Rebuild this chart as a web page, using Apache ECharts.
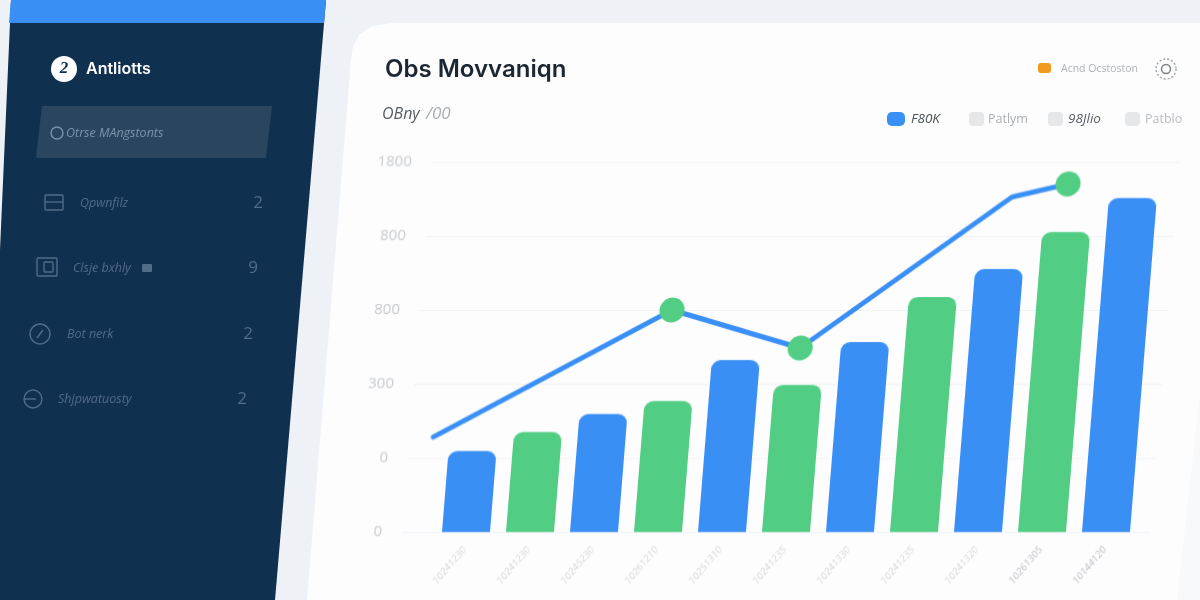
<!DOCTYPE html>
<html>
<head>
<meta charset="utf-8">
<style>
  html, body { margin: 0; padding: 0; width: 1200px; height: 600px; overflow: hidden; background: #eef1f6; }
  #bg, #main { position: absolute; left: 0; top: 0; width: 1200px; height: 600px; }
  /* the whole plot leans to the right, sheared around the bar baseline */
  #main { transform: skewX(-4.6deg); transform-origin: 0 532px; }
</style>
<script src="https://cdn.jsdelivr.net/npm/echarts@6/dist/echarts.min.js"></script>
</head>
<body>
<div id="bg"></div>
<div id="main"></div>
<script>
const categories = ['10241230', '10241230', '10245230', '10261210', '10251310', '10241235', '10241330', '10241235', '10241320', '10261305', '10144120']
const barValues = [328, 405, 478, 531, 697, 596, 770, 953, 1066, 1216, 1354]
const barColorNames = ['blue', 'green', 'blue', 'green', 'blue', 'green', 'blue', 'green', 'blue', 'green', 'blue']
const lineX = [0.37, 3.94, 5.99, 9.11, 9.97]
const lineValues = [385, 900, 746, 1358, 1411]
const lineDots = [1, 2, 4]
const yTickLabels = ['0', '0', '300', '800', '800', '1800']
const sideRows = ['Qpwnfilz', 'Clsje bxhly', 'Bot nerk', 'Shjpwatuosty']
const sideCounts = ['2', '9', '2', '2']
const legendNames = ['F80K', 'Patlym', '98Jlio', 'Patblo']

const BLUE = '#3a8ff5'
const GREEN = '#52ce84'

const txt = (x, y, text, font, fill, align) => ({
  type: 'text', z: 5,
  style: {x, y, text, font, fill, textAlign: align || 'left', textVerticalAlign: 'middle'}
})
const poly = (points, fill, z) => ({type: 'polygon', z: z || 1, shape: {points}, style: {fill}})
const pill = (x, y, width, height, r, fill) => ({type: 'rect', z: 5, shape: {x, y, width, height, r}, style: {fill}})
const ring = (cx, cy, r, stroke, extra) => ({
  type: 'circle', z: 5, shape: {cx, cy, r},
  style: Object.assign({fill: 'none', stroke, lineWidth: 1.4}, extra)
})
const box = (x, y, width, height, stroke) => ({
  type: 'rect', z: 5, shape: {x, y, width, height, r: 1},
  style: {fill: 'none', stroke, lineWidth: 1.4}
})
const stroke = (x1, y1, x2, y2, color) => ({
  type: 'line', z: 5, shape: {x1, y1, x2, y2}, style: {stroke: color, lineWidth: 1.4}
})

const rowY = [203, 268, 334, 399]
const rowTextX = [80, 73, 67, 58]
const countX = [258, 253, 248, 242]
const DIM = '#506c87'

const bgItems = [
  // card and its faint right hand edge
  poly([[351, 60], [353, 46], [360, 34], [372, 26], [392, 23], [1200, 23], [1200, 600], [307, 600]], '#fdfdfe', 1),
  poly([[1200, 395], [1200, 600], [1177, 600]], '#f8f9fb', 2),
  // sidebar
  poly([[11, 0], [326, 0], [275, 600], [0, 600], [0, 250]], '#10304f', 3),
  poly([[11, 0], [326, 0], [324, 23], [9, 23]], BLUE, 4),
  poly([[42, 106], [272, 106], [266, 158], [36, 158]], '#2a4560', 4),
  // brand
  {type: 'circle', z: 5, shape: {cx: 64, cy: 69, r: 13}, style: {fill: '#fff'}},
  txt(64, 69, '2', 'italic 700 17px "Liberation Serif"', '#10304f', 'center'),
  txt(86, 69, 'Antliotts', '600 16px Inter', '#fff'),
  // active row
  ring(57, 133, 6, '#7d93a8'),
  txt(66, 133, 'Otrse MAngstonts', 'italic 12.5px "Open Sans"', '#7d93a8'),
  // icons of the rows
  box(45, 195, 18, 15, DIM),
  stroke(45, 202, 63, 202, DIM),
  box(37, 258, 20, 18, DIM),
  box(44, 262, 9, 10, DIM),
  pill(142, 264, 10, 8, 1, DIM),
  ring(40, 334, 10, DIM),
  stroke(37, 338, 43, 330, DIM),
  ring(33, 399, 9, DIM),
  stroke(24, 399, 36, 399, DIM),
  // card head
  txt(385, 70, 'Obs Movvaniqn', '600 24px Inter', '#1b2733'),
  txt(382, 114, 'OBny', 'italic 16px "Open Sans"', '#555c63'),
  txt(426, 114, '/00', 'italic 17px "Open Sans"', '#a8adb2'),
  pill(1038, 63, 13, 10, 3, '#f09a22'),
  txt(1061, 69, 'Acnd Ocstoston', '10.5px "Open Sans"', '#aeb2b6'),
  ring(1166, 69, 10, '#9aa0a5', {lineDash: [2, 2]}),
  ring(1166, 69, 4.5, '#777d82'),
  // legend swatches
  pill(887, 112, 18, 14, 5, BLUE),
  pill(969, 112, 15, 14, 4, '#e6e7e8'),
  pill(1048, 112, 15, 14, 4, '#e6e7e8'),
  pill(1125, 112, 15, 14, 4, '#e6e7e8'),
  txt(911, 119, legendNames[0], 'italic 13.5px "Open Sans"', '#4a5158'),
  txt(988, 119, legendNames[1], '12.5px "Open Sans"', '#a9aeb2'),
  txt(1068, 119, legendNames[2], 'italic 13.5px "Open Sans"', '#5a6066'),
  txt(1145, 119, legendNames[3], '12.5px "Open Sans"', '#b9bdc0')
]
sideRows.forEach((name, i) => {
  bgItems.push(txt(rowTextX[i], rowY[i], name, 'italic 12.5px "Open Sans"', DIM))
  bgItems.push(txt(countX[i], rowY[i], sideCounts[i], '17px "Open Sans"', DIM, 'center'))
})

const bg = echarts.init(document.getElementById('bg'))
bg.setOption({animation: false, graphic: {elements: bgItems}})

const colorOf = {blue: BLUE, green: GREEN}
const chart = echarts.init(document.getElementById('main'))
chart.setOption({
  animation: false,
  backgroundColor: 'transparent',
  // bars sit inside the wider grid the gridlines run across
  grid: [
    {left: 434, width: 704, top: 162, height: 370},
    {left: 402, width: 748, top: 162, height: 370}
  ],
  xAxis: [
    {
      type: 'category', gridIndex: 0, data: categories,
      axisLine: {show: false}, axisTick: {show: false},
      axisLabel: {
        rotate: 52, interval: 0, margin: 16, fontSize: 10, fontFamily: 'Open Sans', fontStyle: 'italic',
        color: (v, i) => (i > 8 ? '#bcbfc2' : '#d6d8da')
      }
    },
    // the line does not sit on the categories: x is counted in bar slots
    {type: 'value', gridIndex: 1, min: 0, max: 11.6875, show: false, splitLine: {show: false}}
  ],
  yAxis: [
    {type: 'value', gridIndex: 0, min: 0, max: 1500, interval: 300, show: false, splitLine: {show: false}},
    {
      type: 'value', gridIndex: 1, min: 0, max: 1500, interval: 300,
      axisLine: {show: false}, axisTick: {show: false},
      splitLine: {lineStyle: {color: '#f0f2f4', width: 1}},
      axisLabel: {
        margin: 20, fontSize: 15, fontFamily: 'Open Sans', color: '#c6c9cc',
        formatter: (v) => yTickLabels[v / 300]
      }
    }
  ],
  series: [
    {
      type: 'bar', xAxisIndex: 0, yAxisIndex: 0, barWidth: 48,
      data: barValues.map((value, i) => ({value, itemStyle: {color: colorOf[barColorNames[i]]}})),
      itemStyle: {borderRadius: [9, 9, 0, 0]}
    },
    {
      type: 'line', xAxisIndex: 1, yAxisIndex: 1, z: 4,
      data: lineX.map((x, i) => [x, lineValues[i]]),
      showAllSymbol: true,
      symbol: 'circle',
      symbolSize: (v, p) => (lineDots.includes(p.dataIndex) ? 25 : 0),
      itemStyle: {color: GREEN, borderWidth: 0},
      lineStyle: {color: BLUE, width: 5, cap: 'round'}
    }
  ]
})
</script>
</body>
</html>
